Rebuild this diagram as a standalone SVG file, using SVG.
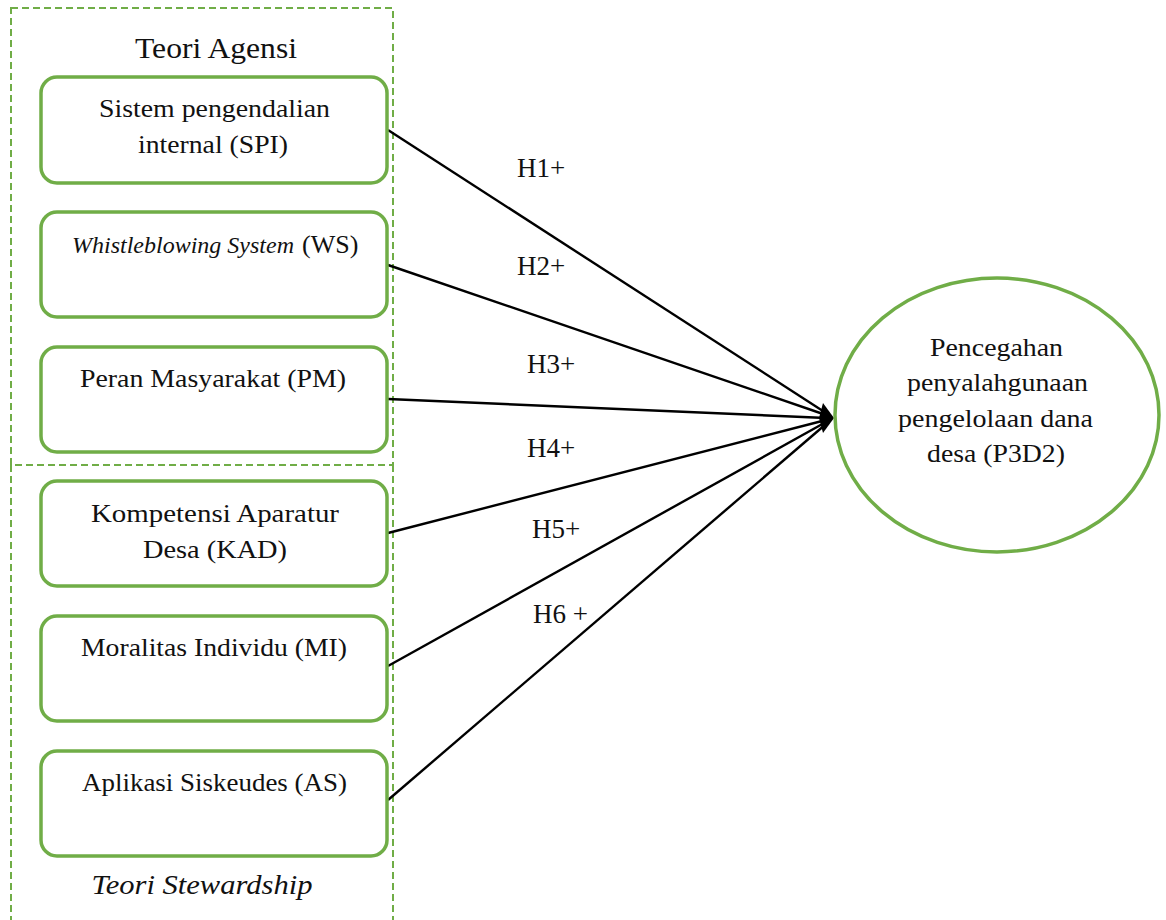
<svg xmlns="http://www.w3.org/2000/svg" width="1166" height="920" viewBox="0 0 1166 920">
<style>
.frame{fill:none;stroke:#70ad47;stroke-width:2;stroke-dasharray:7 4}
.box{fill:#fff;stroke:#70ad47;stroke-width:3.5}
.t{font-family:"Liberation Serif",serif;font-size:26px;fill:#111;text-anchor:middle}
.ts{font-family:"Liberation Serif",serif;font-size:26px;fill:#111;text-anchor:start}
.lbl{font-family:"Liberation Serif",serif;font-size:27px;fill:#111}
.c{stroke:#000;stroke-width:2.4;fill:none}
</style>
<rect width="1166" height="920" fill="#fff"/>
<g id="frames">
<rect class="frame" x="11" y="8" width="382" height="457"/>
<path class="frame" d="M11 465 V920 M393 465 V920"/>
<text class="t" x="216" y="58" style="font-size:30px" textLength="162" lengthAdjust="spacingAndGlyphs">Teori Agensi</text>
<text class="t" x="202" y="894" style="font-size:28px;font-style:italic" textLength="221" lengthAdjust="spacingAndGlyphs">Teori Stewardship</text>
</g>
<g id="connectors">
<line class="c" x1="388" y1="130" x2="826" y2="413"/>
<line class="c" x1="388" y1="265" x2="826" y2="415"/>
<line class="c" x1="388" y1="399" x2="826" y2="418"/>
<line class="c" x1="388" y1="533" x2="826" y2="420"/>
<line class="c" x1="388" y1="666" x2="826" y2="422"/>
<line class="c" x1="388" y1="800" x2="826" y2="424"/>
<polygon points="834,418 823,403 819,418 823,433" fill="#000"/>
<text class="lbl" x="517" y="177">H1+</text>
<text class="lbl" x="517" y="275">H2+</text>
<text class="lbl" x="527" y="373">H3+</text>
<text class="lbl" x="527" y="457">H4+</text>
<text class="lbl" x="532" y="538">H5+</text>
<text class="lbl" x="533" y="623">H6 +</text>
</g>
<g id="spi">
<rect class="box" x="41" y="77" width="346" height="106" rx="16"/>
<text class="t" x="214.5" y="117" textLength="231" lengthAdjust="spacingAndGlyphs">Sistem pengendalian</text>
<text class="t" x="213" y="153" textLength="150" lengthAdjust="spacingAndGlyphs">internal (SPI)</text>
</g>
<g id="ws">
<rect class="box" x="41" y="212" width="346" height="105" rx="16"/>
<text class="ts" x="72" y="253" font-style="italic" style="font-size:24px">Whistleblowing System</text>
<text class="ts" x="302" y="253">(WS)</text>
</g>
<g id="pm">
<rect class="box" x="41" y="347" width="346" height="105" rx="16"/>
<text class="t" x="213" y="387" textLength="266" lengthAdjust="spacingAndGlyphs">Peran Masyarakat (PM)</text>
</g>
<g id="kad">
<rect class="box" x="41" y="481" width="346" height="105" rx="16"/>
<text class="t" x="215" y="522" textLength="248" lengthAdjust="spacingAndGlyphs">Kompetensi Aparatur</text>
<text class="t" x="215" y="558" textLength="144" lengthAdjust="spacingAndGlyphs">Desa (KAD)</text>
</g>
<g id="mi">
<rect class="box" x="41" y="616" width="346" height="105" rx="16"/>
<text class="t" x="214" y="656" textLength="266" lengthAdjust="spacingAndGlyphs">Moralitas Individu (MI)</text>
</g>
<g id="as">
<rect class="box" x="41" y="751" width="346" height="105" rx="16"/>
<text class="t" x="214.5" y="791" textLength="265" lengthAdjust="spacingAndGlyphs">Aplikasi Siskeudes (AS)</text>
</g>
<g id="p3d2">
<ellipse cx="997" cy="415" rx="162" ry="137" fill="#fff" stroke="#70ad47" stroke-width="3.5"/>
<text class="t" x="996.5" y="356" textLength="133" lengthAdjust="spacingAndGlyphs">Pencegahan</text>
<text class="t" x="997.5" y="391" textLength="181" lengthAdjust="spacingAndGlyphs">penyalahgunaan</text>
<text class="t" x="995.5" y="427" textLength="195" lengthAdjust="spacingAndGlyphs">pengelolaan dana</text>
<text class="t" x="996" y="462" textLength="138" lengthAdjust="spacingAndGlyphs">desa (P3D2)</text>
</g>
</svg>
